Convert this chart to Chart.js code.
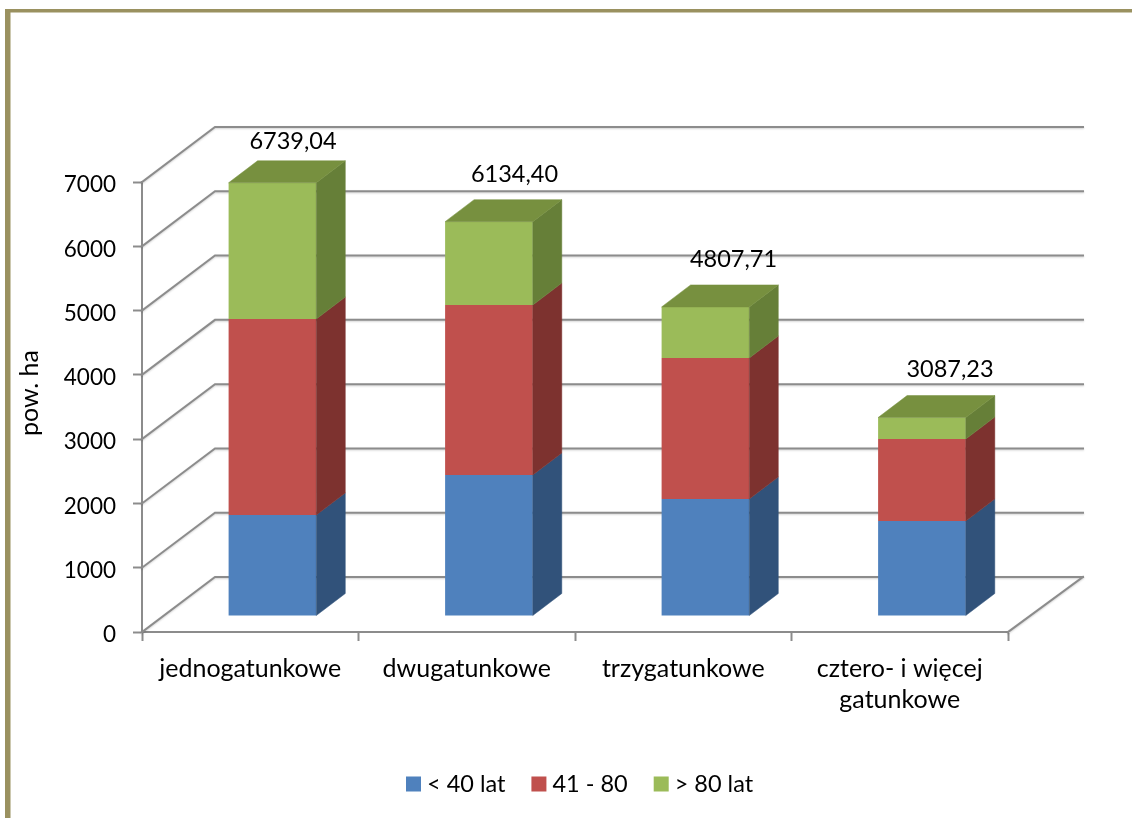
<!DOCTYPE html>
<html><head><meta charset="utf-8">
<style>html,body{margin:0;padding:0;background:#fff}canvas{display:block}</style>
<script src="https://cdn.jsdelivr.net/npm/chart.js@4"></script></head>
<body><canvas id="c" width="1132" height="818"></canvas>
<script>
const categories = [['jednogatunkowe'], ['dwugatunkowe'], ['trzygatunkowe'], ['cztero- i więcej', 'gatunkowe']];
const seriesNames = ['< 40 lat', '41 - 80', '> 80 lat'];
const under40 = [1571, 2193, 1820, 1477];
const from41to80 = [3048, 2644, 2193, 1275];
const over80 = [2120.04, 1297.40, 794.71, 335.23];
const totals = [6739.04, 6134.40, 4807.71, 3087.23];
const yTicks = [0, 1000, 2000, 3000, 4000, 5000, 6000, 7000];

const FONT = 'Lato, Carlito, sans-serif', FS = 23.5, FS_CAT = 25, FS_Y = 22.5;
const front = ['#4F81BD', '#C0504D', '#9BBB59'];
const side = ['#31527A', '#7D322F', '#667F38'];
const topFace = '#77903F';
const GRID = '#8C8C8C';
const WALL = {dx: 73, dy: -55};
const BAR_SHIFT = {dx: 22.2, dy: -16};
const BAR_DEPTH = {dx: 29, dy: -22};
const LABEL_OFFSET = [[6, -19], [11, -25], [13.5, -26], [13.5, -26]];
const TITLE_SHIFT = -14;

const scene = {
  id: 'scene',
  beforeDraw(chart) {
    const c = chart.ctx;
    c.save();
    c.fillStyle = '#fff'; c.fillRect(0, 0, chart.width, chart.height);
    c.fillStyle = '#9A9160';
    c.fillRect(5, 9, chart.width - 5, 3.5);
    c.fillRect(5, 9, 5.5, chart.height - 9);
    c.restore();
  },
  beforeDatasetsDraw(chart) {
    const c = chart.ctx, a = chart.chartArea, y = chart.scales.y;
    c.save();
    c.strokeStyle = GRID; c.lineWidth = 2; c.lineCap = 'square';
    c.shadowColor = 'rgba(0,0,0,.18)'; c.shadowBlur = 2; c.shadowOffsetY = 1;
    c.beginPath();
    yTicks.forEach(v => {
      const p = y.getPixelForValue(v);
      c.moveTo(a.left, p);
      c.lineTo(a.left + WALL.dx, p + WALL.dy);
      c.lineTo(a.right + WALL.dx + 2, p + WALL.dy);
    });
    const b = y.getPixelForValue(0);
    c.moveTo(a.right + WALL.dx + 2, b + WALL.dy);
    c.lineTo(a.right, b);
    c.stroke();
    c.restore();
    c.save();
    c.translate(BAR_SHIFT.dx, BAR_SHIFT.dy);
  },
  afterDatasetsDraw(chart) {
    const c = chart.ctx;
    c.restore();
    const d = BAR_DEPTH, s = BAR_SHIFT;
    const face = (pts, col) => {
      c.fillStyle = col; c.strokeStyle = col; c.lineWidth = .5;
      c.beginPath(); pts.forEach((p, i) => i ? c.lineTo(p[0], p[1]) : c.moveTo(p[0], p[1]));
      c.closePath(); c.fill(); c.stroke();
    };
    chart.data.datasets.forEach((ds, i) => {
      chart.getDatasetMeta(i).data.forEach(el => {
        const r = el.x + el.width / 2 + s.dx, t = el.y + s.dy, bt = el.base + s.dy;
        face([[r, t], [r + d.dx, t + d.dy], [r + d.dx, bt + d.dy], [r, bt]], side[i]);
        if (i === chart.data.datasets.length - 1) {
          const l = el.x - el.width / 2 + s.dx;
          face([[l, t], [l + d.dx, t + d.dy], [r + d.dx, t + d.dy], [r, t]], topFace);
        }
      });
    });
    const lastMeta = chart.getDatasetMeta(chart.data.datasets.length - 1);
    c.save();
    c.font = FS + 'px ' + FONT; c.fillStyle = '#000'; c.textAlign = 'center'; c.textBaseline = 'middle';
    lastMeta.data.forEach((el, i) => {
      c.fillText(totals[i].toFixed(2).replace('.', ','),
        el.x + s.dx + d.dx / 2 + LABEL_OFFSET[i][0],
        el.y + s.dy + d.dy + LABEL_OFFSET[i][1]);
    });
    c.restore();
    c.save();
    c.font = FS + 'px ' + FONT; c.textBaseline = 'middle'; c.textAlign = 'left';
    let x = 406;
    const ly = 784;
    seriesNames.forEach((n, i) => {
      c.fillStyle = front[i]; c.fillRect(x, ly - 7.5, 15, 15);
      c.fillStyle = '#000'; c.fillText(n, x + 21, ly);
      x += 21 + c.measureText(n).width + 26;
    });
    c.restore();
  }
};

const dsets = [under40, from41to80, over80].map((data, i) => ({
  label: seriesNames[i], data, backgroundColor: front[i], borderWidth: 0, clip: false,
  barPercentage: 0.405, categoryPercentage: 1
}));

new Chart(document.getElementById('c'), {
  type: 'bar',
  data: {labels: categories, datasets: dsets},
  plugins: [scene],
  options: {
    responsive: false, animation: false, devicePixelRatio: 1,
    layout: {padding: {top: 182, right: 124, left: 0, bottom: 0}},
    plugins: {legend: {display: false}, tooltip: {enabled: false}},
    scales: {
      x: {
        stacked: true,
        afterFit(s) { s.height = 186; },
        grid: {drawOnChartArea: false, drawTicks: true, tickLength: 9, tickWidth: 2, tickColor: GRID, offset: true},
        border: {color: GRID, width: 2},
        ticks: {color: '#000', font: {family: FONT, size: FS_CAT, lineHeight: 1.24}, padding: 12, maxRotation: 0, autoSkip: false}
      },
      y: {
        stacked: true, min: 0, max: 7000,
        afterFit(s) { s.width = 142; },
        afterBuildTicks(s) { s.ticks = yTicks.map(value => ({value})); },
        afterUpdate(s) {
          if (s._titleWrapped) return;
          s._titleWrapped = true;
          const draw = s.drawTitle;
          s.drawTitle = function () {
            this.ctx.save();
            this.ctx.translate(0, TITLE_SHIFT);
            draw.call(this);
            this.ctx.restore();
          };
        },
        grid: {drawOnChartArea: false, drawTicks: true, tickLength: 9, tickWidth: 2, tickColor: GRID},
        border: {color: GRID, width: 2},
        ticks: {color: '#000', font: {family: FONT, size: FS_Y}, padding: 17, labelOffset: 3, callback: v => String(v)},
        title: {display: true, text: 'pow. ha', color: '#000', font: {family: FONT, size: FS_CAT}, padding: {top: 15, bottom: 0}}
      }
    }
  }
});
</script></body></html>
